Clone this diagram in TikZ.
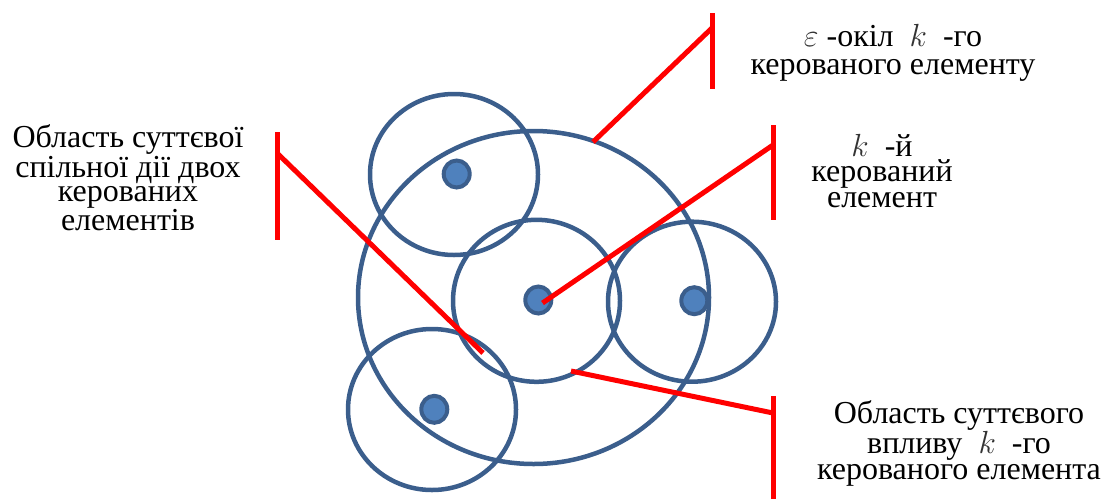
\RequirePackage{fix-cm}
\documentclass[tikz,border=0pt]{standalone}
\usepackage{fontspec}
\setmainfont{Liberation Serif}
\usetikzlibrary{shapes.geometric}
\definecolor{ringblue}{HTML}{3B5E8C}
\definecolor{dotblue}{HTML}{4F81BD}
\begin{document}
\begin{tikzpicture}[x=1pt,y=-1pt,
  ring/.style={draw=ringblue, line width=4.5pt, ellipse, inner sep=0pt},
  dot/.style={draw=ringblue, line width=4pt, fill=dotblue, ellipse, inner sep=0pt, minimum width=26pt, minimum height=27pt},
  leader/.style={draw=red, line width=5pt},
  lbl/.style={align=center, font=\fontsize{32}{25.5}\selectfont, inner sep=0pt, anchor=base}]
\useasboundingbox (0,0) rectangle (1107,499);
% rings
\node[ring, minimum width=351pt, minimum height=333pt] (big) at (533.5,297.5) {};
\node[ring, minimum width=168pt, minimum height=161pt] (tl) at (454,174.5) {};
\node[ring, minimum width=167pt, minimum height=162pt] (ctr) at (536.5,300.8) {};
\node[ring, minimum width=168pt, minimum height=160pt] (rt) at (692,301.7) {};
\node[ring, minimum width=168pt, minimum height=161pt] (bl) at (432,409.5) {};
% dots
\node[dot] (d1) at (456.7,174) {};
\node[dot] (d2) at (538.3,300) {};
\node[dot] (d3) at (694.3,300.7) {};
\node[dot] (d4) at (434.3,409.3) {};
% leader coordinates
\coordinate (a1) at (593,142);
\coordinate (j1) at (712,28);
\coordinate (b1t) at (712,13);
\coordinate (b1b) at (712,89);
\coordinate (a2) at (542.5,303);
\coordinate (j2) at (773,145);
\coordinate (b2t) at (773,125);
\coordinate (b2b) at (773,220);
\coordinate (a3) at (483,353);
\coordinate (j3) at (277,153);
\coordinate (b3t) at (277,132);
\coordinate (b3b) at (277,240);
\coordinate (a4) at (571,371);
\coordinate (j4) at (773,413);
\coordinate (b4t) at (773,396);
\coordinate (b4b) at (773,499);
% leaders
\draw[leader] (a1) -- (j1);
\draw[leader] (b1t) -- (b1b);
\draw[leader] (a2) -- (j2);
\draw[leader] (b2t) -- (b2b);
\draw[leader] (a3) -- (j3);
\draw[leader] (b3t) -- (b3b);
\draw[leader] (a4) -- (j4);
\draw[leader] (b4t) -- (b4b);
% labels (anchor = baseline of last line)
\node[lbl, font=\fontsize{32}{24}\selectfont] (tleft) at (128,230) {Область суттєвої\\спільної дії двох\\керованих\\елементів};
\node[lbl, font=\fontsize{32}{28}\selectfont] (ttop) at (893,74) {{\color{black!80}$\varepsilon$} -окіл\enspace{\color{black!80}$k$}\enspace-го\\керованого елементу};
\node[lbl] (tk) at (882,207) {{\color{black!80}$k$}\enspace-й\\керований\\елемент};
\node[lbl] (tbot) at (959,479) {Область суттєвого\\впливу\enspace{\color{black!80}$k$}\enspace-го\\керованого елемента};
\end{tikzpicture}
\end{document}
